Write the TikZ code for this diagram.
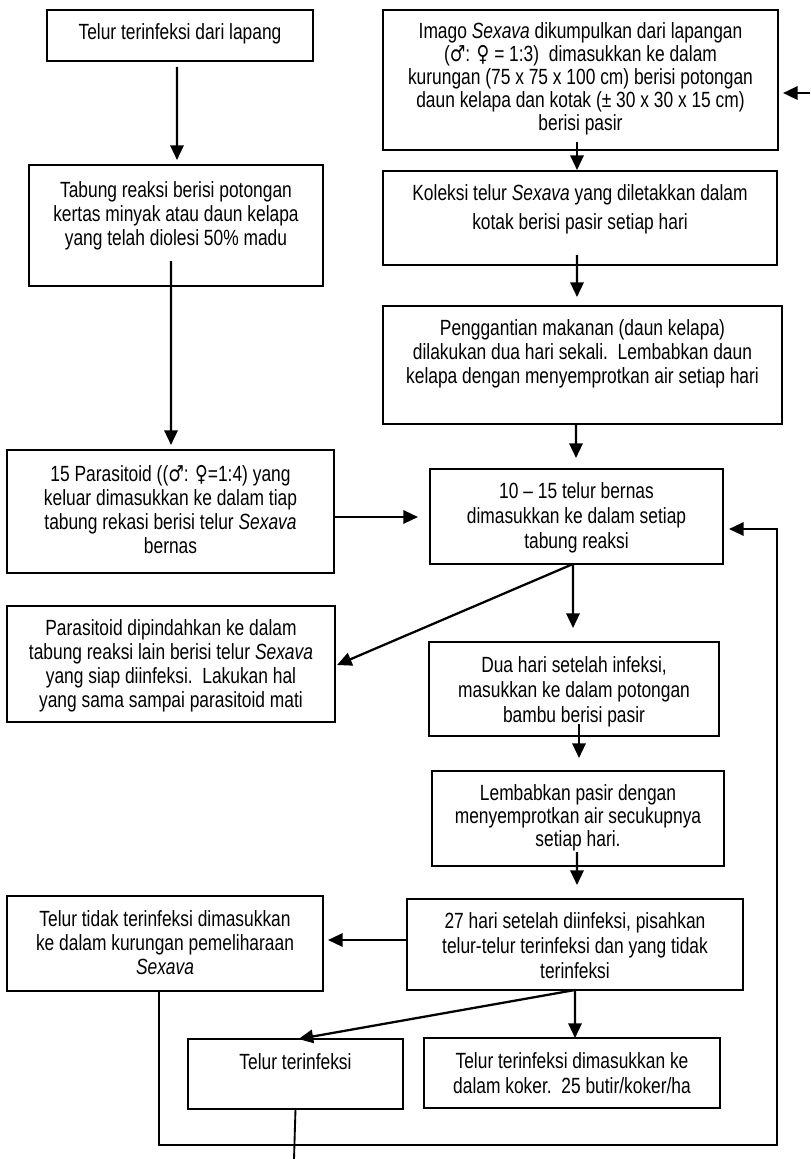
\documentclass[tikz,border=0pt]{standalone}
\usepackage{graphicx}
\usepackage{fontspec}
\setmainfont{Liberation Sans}
\newfontfamily\symf{DejaVu Sans}
\usetikzlibrary{arrows.meta,calc}
\newdimen\pxu \pxu=0.75pt
\newcommand{\tb}[5]{\scalebox{0.79}[1]{\parbox[c][#2\pxu][t]{\dimexpr#1\pxu*100/79\relax}{\centering\fontsize{16.5pt}{#4\pxu}\selectfont\vspace*{\dimexpr#3\pxu-0.7\baselineskip\relax}\strut#5\par}}}
\tikzset{
  box/.style={draw, line width=1.4pt, inner sep=0pt, outer sep=0pt, anchor=north west},
  arr/.style={line width=1.7pt, -{Triangle[length=11pt,width=10pt]}},
  ln/.style={line width=1.4pt}
}
\begin{document}
\begin{tikzpicture}[x=0.75pt,y=-0.75pt]
\fill[white] (0,0) rectangle (810,1159);
\useasboundingbox (0,0) rectangle (810,1159);

\node[box] (b1) at (47,10) {\tb{266}{51}{30}{24}{Telur terinfeksi dari lapang}};
\node[box] (b2) at (29,165) {\tb{294}{121}{32}{24}{Tabung reaksi berisi potongan\\kertas minyak atau daun kelapa\\yang telah diolesi 50\% madu}};
\node[box] (b3) at (7,450) {\tb{327}{123}{31}{24}{15 Parasitoid (({\symf ♂}: {\symf ♀}=1:4) yang\\keluar dimasukkan ke dalam tiap\\tabung rekasi berisi telur \textit{Sexava}\\bernas}};
\node[box] (b4) at (7,606) {\tb{328}{116}{29}{24}{Parasitoid dipindahkan ke dalam\\tabung reaksi lain berisi telur \textit{Sexava}\\yang siap diinfeksi.\ \ Lakukan hal\\yang sama sampai parasitoid mati}};
\node[box] (r1) at (383,10) {\tb{395}{140}{29}{23}{Imago \textit{Sexava} dikumpulkan dari lapangan\\({\symf ♂}: {\symf ♀} = 1:3)\ \ dimasukkan ke dalam\\kurungan (75 x 75 x 100 cm) berisi potongan\\daun kelapa dan kotak (± 30 x 30 x 15 cm)\\berisi pasir}};
\node[box] (r2) at (383,171) {\tb{394}{94}{29}{29}{Koleksi telur \textit{Sexava} yang diletakkan dalam\\kotak berisi pasir setiap hari}};
\node[box] (r3) at (383,306) {\tb{399}{118}{29}{24}{Penggantian makanan (daun kelapa)\\dilakukan dua hari sekali.\ \ Lembabkan daun\\kelapa dengan menyemprotkan air setiap hari}};
\node[box] (r4) at (430,469) {\tb{293}{95}{29}{25}{10 – 15 telur bernas\\dimasukkan ke dalam setiap\\tabung reaksi}};
\node[box] (r5) at (429,642) {\tb{290}{94}{30}{25}{Dua hari setelah infeksi,\\masukkan ke dalam potongan\\bambu berisi pasir}};
\node[box] (r6) at (432,771) {\tb{292}{95}{29}{23}{Lembabkan pasir dengan\\menyemprotkan air secukupnya\\setiap hari.}};
\node[box] (r7) at (407,899) {\tb{336}{91}{29}{25}{27 hari setelah diinfeksi, pisahkan\\telur-telur terinfeksi dan yang tidak\\terinfeksi}};
\node[box] (b7) at (7,896) {\tb{316}{95}{30}{24}{Telur tidak terinfeksi dimasukkan\\ke dalam kurungan pemeliharaan\\\textit{Sexava}}};
\node[box] (b8) at (188,1039) {\tb{215}{70}{30}{24}{Telur terinfeksi}};
\node[box] (r8) at (424,1038) {\tb{296}{70}{30}{25}{Telur terinfeksi dimasukkan ke\\dalam koker.\ \ 25 butir/koker/ha}};

\draw[arr] ($(b1.south)+(-3,6)$) -- ($(b2.north)+(1,-5)$);
\draw[arr] ($(b2.south)+(-5,-25)$) -- ($(b3.north)+(0.5,-5)$);
\draw[arr] ($(b3.east)+(0,5.5)$) -- ($(r4.west)+(-12,0.5)$);
\draw[arr] ($(r1.south)+(-3.5,-8)$) -- ($(r2.north)+(-3,-1)$);
\draw[arr] ($(r2.south)+(-3,-10)$) -- ($(r3.north)+(-5.5,-9)$);
\draw[arr] ($(r3.south)+(-6.5,0)$) -- ($(r4.north)+(-0.5,-11)$);
\draw[arr] ($(r4.south)+(-3.5,0)$) -- ($(r5.north)+(-1,-14)$);
\draw[arr] ($(r4.south)+(-3.5,0)$) -- ($(b4.east)+(2,1)$);
\draw[arr] ($(r5.south)+(5,-12)$) -- ($(r6.north)+(1,-13)$);
\draw[arr] ($(r6.south)+(-1,-14)$) -- ($(r7.north)+(2,-14)$);
\draw[arr] ($(r7.west)+(0,-4.5)$) -- ($(b7.east)+(5,-3.5)$);
\draw[arr] (r7.south) -- ($(r8.north)+(3,0)$);
\draw[arr] (r7.south) -- ($(b8.north)+(3,0)$);
\coordinate (loopc) at (777,1145);
\draw[arr] ($(b7.south)+(-6,0)$) |- (loopc) |- ($(r4.east)+(6,12.5)$);
\coordinate (stub) at (294,1159);
\draw[ln] (b8.south) -- (stub);
\coordinate (rin) at (810,93);
\draw[arr] (rin) -- ($(r1.east)+(5,13)$);
\end{tikzpicture}
\end{document}
